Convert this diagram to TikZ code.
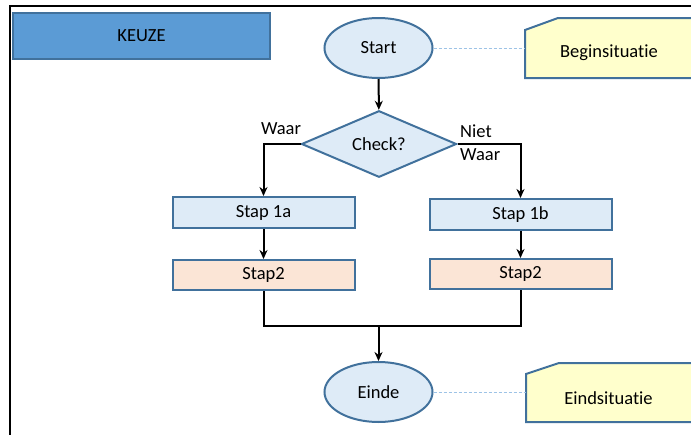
\documentclass[tikz,border=0pt]{standalone}
\usepackage{fontspec}
\setmainfont[Ligatures={NoCommon,NoRare}]{Carlito}
\usetikzlibrary{shapes.geometric,arrows.meta}
\definecolor{bordc}{HTML}{41719C}
\definecolor{lightb}{HTML}{DEEBF7}
\definecolor{peach}{HTML}{FBE5D6}
\definecolor{keuzeb}{HTML}{5B9BD5}
\definecolor{yell}{HTML}{FFFFCC}
\definecolor{dashb}{HTML}{9DC3E6}
\begin{document}
\begin{tikzpicture}[x=1pt,y=-1pt,
  font=\fontsize{18.5}{23}\selectfont,
  shapebox/.style={draw=bordc, line width=2pt, fill=lightb, inner sep=0pt},
  term/.style={shapebox, ellipse, minimum width=108pt, minimum height=60pt},
  decision/.style={shapebox, diamond, minimum width=155pt, minimum height=66pt},
  stepbox/.style={shapebox, rectangle, minimum width=182pt, minimum height=31pt},
  steptwo/.style={stepbox, fill=peach, minimum height=30pt},
  keuzebox/.style={draw=bordc, line width=2pt, fill=keuzeb, inner sep=0pt, minimum width=257pt, minimum height=46pt},
  notebox/.style={draw=bordc, line width=2pt, fill=yell},
  arr/.style={line width=2pt, -{Stealth[length=9pt,width=8pt]}},
  flow/.style={line width=2pt},
  dashline/.style={draw=dashb, line width=1pt, dash pattern=on 3pt off 2pt},
  lbl/.style={inner sep=0pt}
]
\useasboundingbox (0,0) rectangle (691,434);
\clip (0,0) rectangle (691,434);
% frame
\draw[line width=2.5pt] (10,440) -- (10,6) -- (700,6);
% title
\node[keuzebox] (keuze) at (141.5,36) {KEUZE};
% nodes
\node[term] (start) at (378.5,48) {Start};
\node[decision] (check) at (379,144) {Check?};
\node[stepbox] (s1a) at (263.5,212.5) {Stap 1a};
\node[stepbox] (s1b) at (520.5,214.5) {Stap 1b};
\node[steptwo] (s2a) at (263.5,275) {Stap2};
\node[steptwo] (s2b) at (520.5,274) {Stap2};
\node[term] (einde) at (378.5,392) {Einde};
% note boxes
\draw[notebox] (525,30) -- (558,18) -- (693,18) -- (693,78) -- (525,78) -- cycle;
\node[lbl] (bs) at (609,53) {Beginsituatie};
\coordinate (bsL) at (525,48);
\draw[notebox] (526,374) -- (559,363) -- (693,363) -- (693,422) -- (526,422) -- cycle;
\node[lbl] (es) at (608.5,398) {Eindsituatie};
\coordinate (esL) at (526,392);
% dashed links
\draw[dashline] (start) -- (bsL);
\draw[dashline] (einde) -- (esL);
% labels
\node[lbl] (waar) at (281,129) {Waar};
\node[lbl, anchor=west, align=left] (niet) at (460,142.5) {Niet\\Waar};
% connectors
\draw[arr] (start) -- (check);
\draw[arr] (check.west) -| (s1a.north);
\draw[arr] (check.east) -| (s1b.north);
\draw[arr] (s1a) -- (s2a);
\draw[arr] (s1b) -- (s2b);
\coordinate (join) at (378.5,326);
\draw[flow] (s2a.south) |- (join) -| (s2b.south);
\draw[arr] (join) -- (einde);
\end{tikzpicture}
\end{document}
